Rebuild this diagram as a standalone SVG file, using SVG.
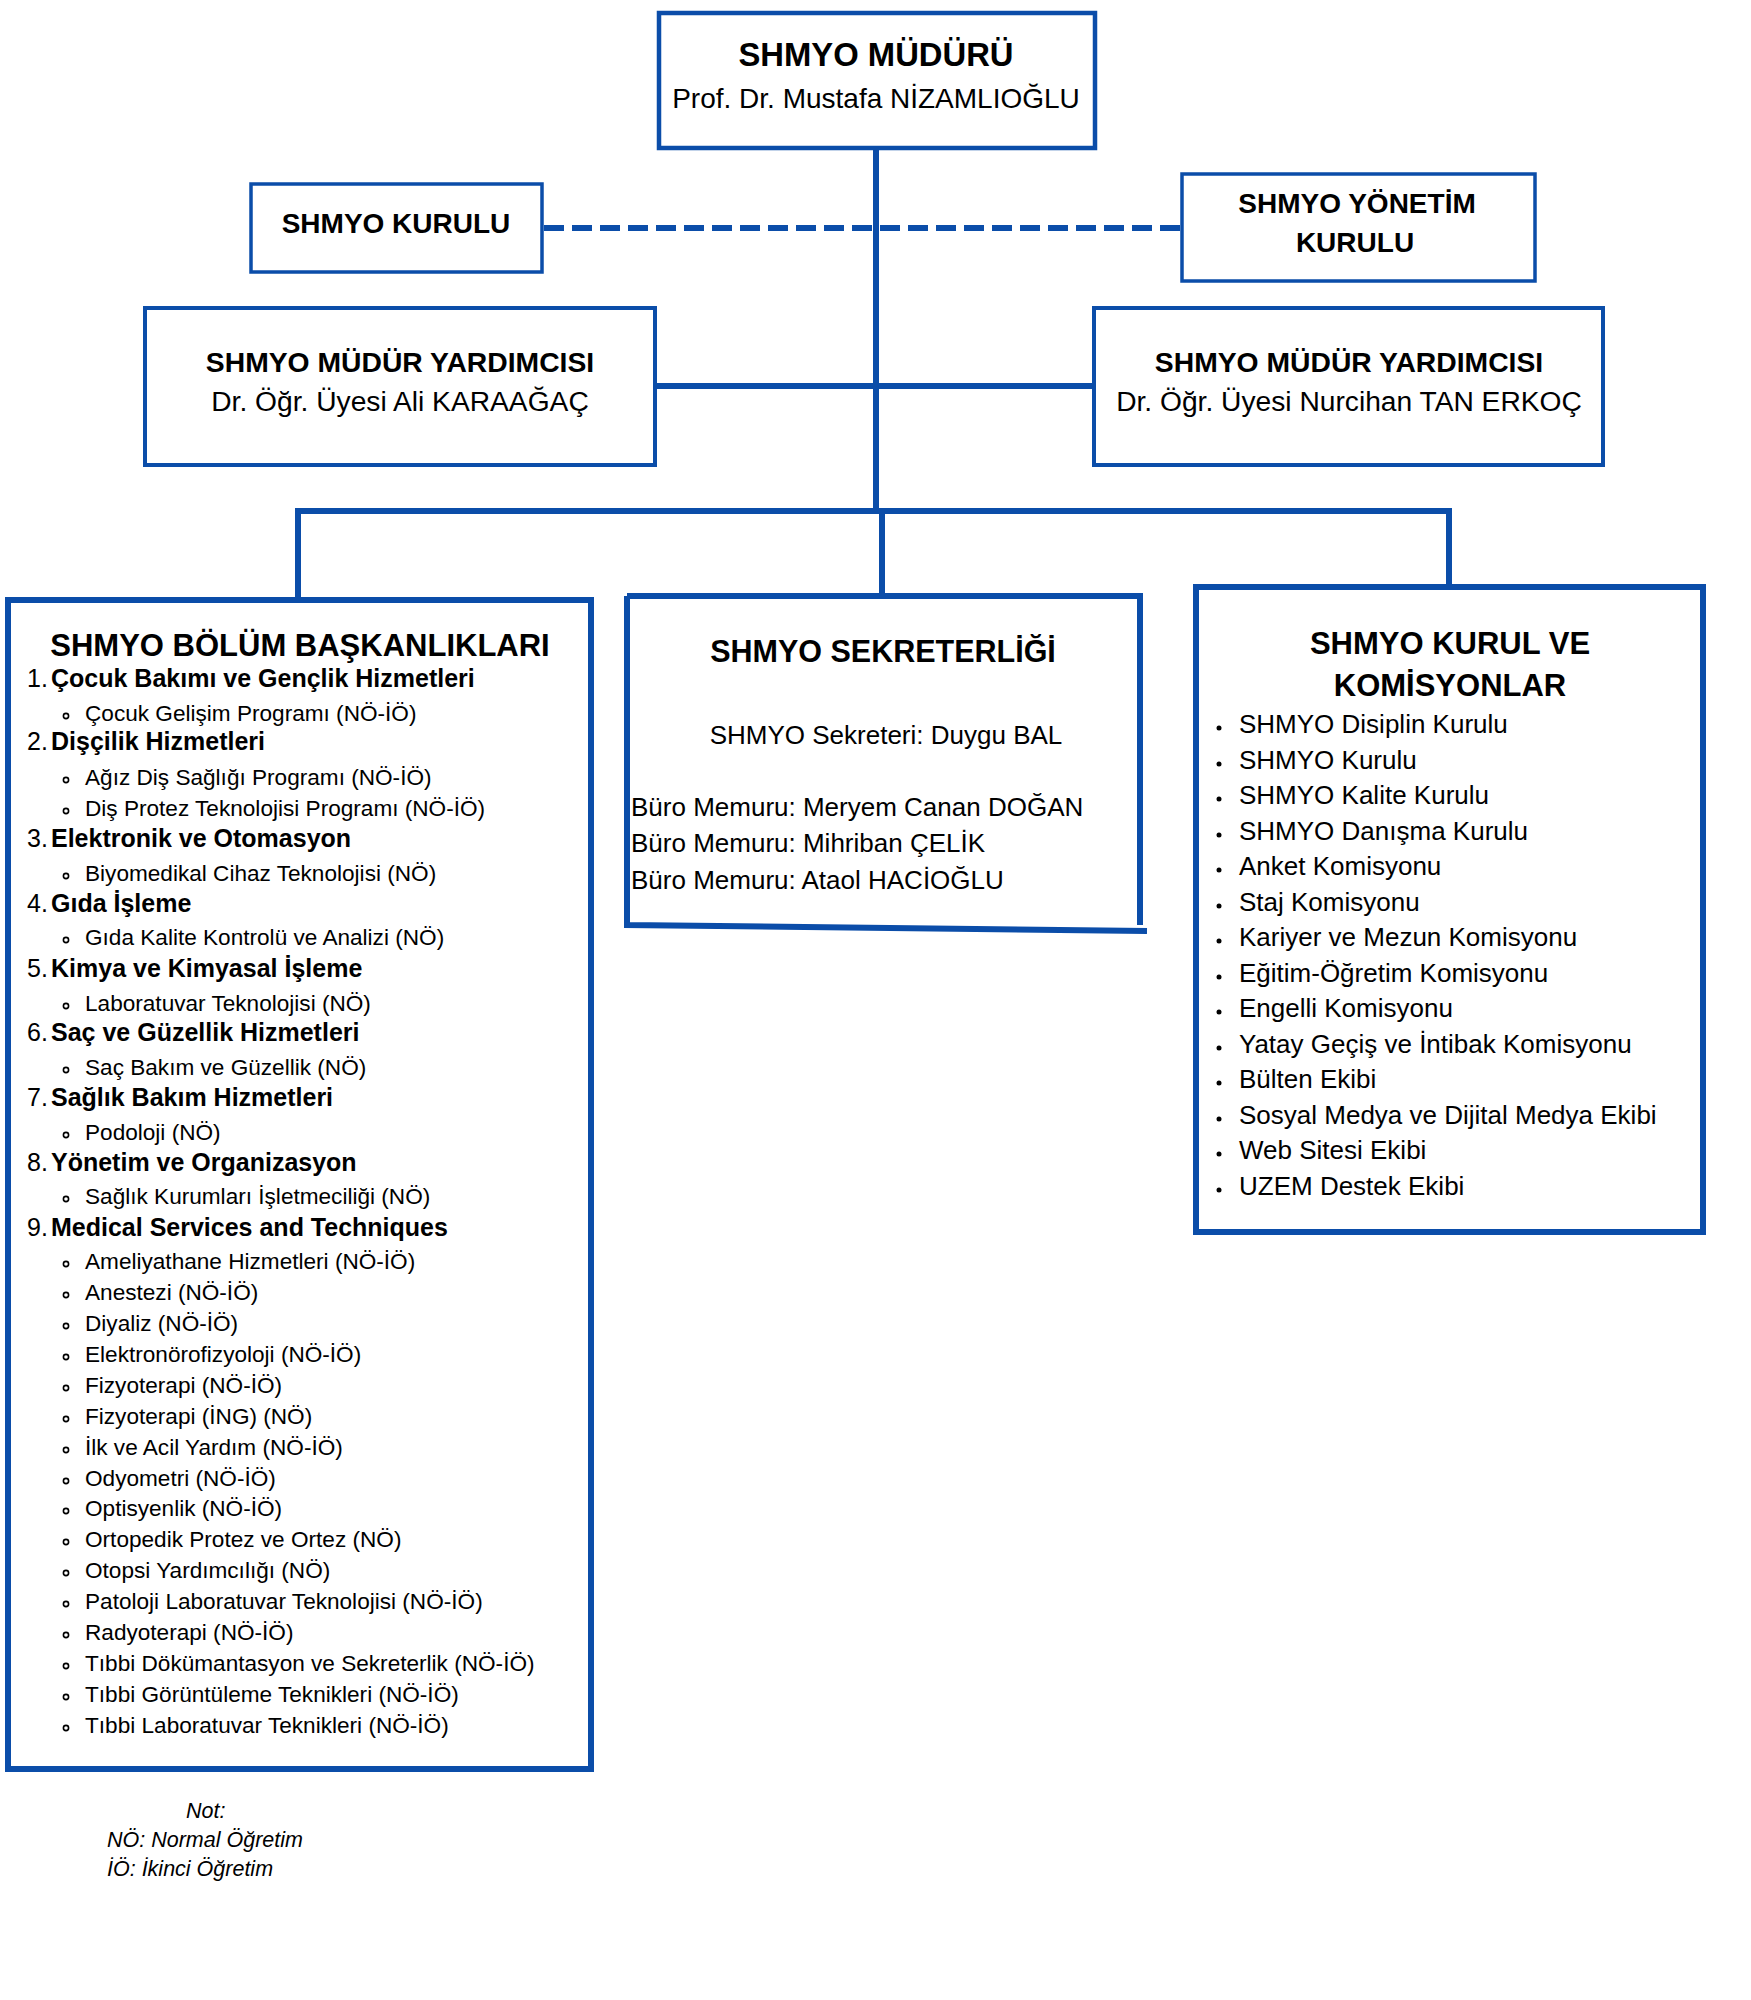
<svg xmlns="http://www.w3.org/2000/svg" width="1751" height="2000" viewBox="0 0 1751 2000">
<style>
text{font-family:"Liberation Sans",Arial,sans-serif;fill:#000}
.box{fill:#fff;stroke:#0b4da9}
.b{font-weight:bold}
.c{text-anchor:middle}
.con{fill:none;stroke:#0b4da9;stroke-width:6}
.sub{font-size:22.6px}
.num{font-size:25px}
.it{font-size:26px}
.ho{fill:none;stroke:#000;stroke-width:1.6}
.note{font-size:21.5px;font-style:italic}
</style>
<rect width="1751" height="2000" fill="#fff"/>
<g id="connectors">
<line class="con" x1="876" y1="150" x2="876" y2="514"/>
<line class="con" x1="657" y1="386" x2="1092" y2="386" stroke-width="7"/>
<line class="con" x1="544" y1="228" x2="1182" y2="228" stroke-dasharray="20 8"/>
<path class="con" d="M298 600 V511 H1449 V587"/>
<line class="con" x1="882" y1="511" x2="882" y2="596"/>
</g>
<g id="mudur">
<rect class="box" x="659" y="13" width="436" height="135" stroke-width="4.5"/>
<text class="b c" x="876" y="66" font-size="32.8">SHMYO MÜDÜRÜ</text>
<text class="c" x="876" y="108" font-size="28">Prof. Dr. Mustafa NİZAMLIOĞLU</text>
</g>
<g id="kurulu">
<rect class="box" x="251" y="184" width="291" height="88" stroke-width="3.5"/>
<text class="b c" x="396" y="233" font-size="28">SHMYO KURULU</text>
</g>
<g id="yonetim">
<rect class="box" x="1182" y="174" width="353" height="107" stroke-width="3.5"/>
<text class="b c" x="1357" y="213" font-size="28">SHMYO YÖNETİM</text>
<text class="b c" x="1355" y="252" font-size="28">KURULU</text>
</g>
<g id="yardimci1">
<rect class="box" x="145" y="308" width="510" height="157" stroke-width="4"/>
<text class="b c" x="400" y="372" font-size="28.3">SHMYO MÜDÜR YARDIMCISI</text>
<text class="c" x="400" y="411" font-size="28.2">Dr. Öğr. Üyesi Ali KARAAĞAÇ</text>
</g>
<g id="yardimci2">
<rect class="box" x="1094" y="308" width="509" height="157" stroke-width="4"/>
<text class="b c" x="1349" y="372" font-size="28.3">SHMYO MÜDÜR YARDIMCISI</text>
<text class="c" x="1349" y="411" font-size="28.2">Dr. Öğr. Üyesi Nurcihan TAN ERKOÇ</text>
</g>
<g id="bolumler">
<rect class="box" x="8" y="600" width="583" height="1169" stroke-width="6"/>
<text class="b c" x="300" y="656" font-size="31">SHMYO BÖLÜM BAŞKANLIKLARI</text>
<g class="num">
<text x="27" y="687">1.</text><text class="b" x="51" y="687">Çocuk Bakımı ve Gençlik Hizmetleri</text>
<text x="27" y="750">2.</text><text class="b" x="51" y="750">Dişçilik Hizmetleri</text>
<text x="27" y="847">3.</text><text class="b" x="51" y="847">Elektronik ve Otomasyon</text>
<text x="27" y="912">4.</text><text class="b" x="51" y="912">Gıda İşleme</text>
<text x="27" y="977">5.</text><text class="b" x="51" y="977">Kimya ve Kimyasal İşleme</text>
<text x="27" y="1041">6.</text><text class="b" x="51" y="1041">Saç ve Güzellik Hizmetleri</text>
<text x="27" y="1106">7.</text><text class="b" x="51" y="1106">Sağlık Bakım Hizmetleri</text>
<text x="27" y="1171">8.</text><text class="b" x="51" y="1171">Yönetim ve Organizasyon</text>
<text x="27" y="1236">9.</text><text class="b" x="51" y="1236">Medical Services and Techniques</text>
</g>
<g class="sub">
<text x="85" y="721">Çocuk Gelişim Programı (NÖ-İÖ)</text>
<text x="85" y="785">Ağız Diş Sağlığı Programı (NÖ-İÖ)</text>
<text x="85" y="816">Diş Protez Teknolojisi Programı (NÖ-İÖ)</text>
<text x="85" y="881">Biyomedikal Cihaz Teknolojisi (NÖ)</text>
<text x="85" y="945">Gıda Kalite Kontrolü ve Analizi (NÖ)</text>
<text x="85" y="1011">Laboratuvar Teknolojisi (NÖ)</text>
<text x="85" y="1075">Saç Bakım ve Güzellik (NÖ)</text>
<text x="85" y="1140">Podoloji (NÖ)</text>
<text x="85" y="1204">Sağlık Kurumları İşletmeciliği (NÖ)</text>
<text x="85" y="1269">Ameliyathane Hizmetleri (NÖ-İÖ)</text>
<text x="85" y="1300">Anestezi (NÖ-İÖ)</text>
<text x="85" y="1331">Diyaliz (NÖ-İÖ)</text>
<text x="85" y="1362">Elektronörofizyoloji (NÖ-İÖ)</text>
<text x="85" y="1393">Fizyoterapi (NÖ-İÖ)</text>
<text x="85" y="1424">Fizyoterapi (İNG) (NÖ)</text>
<text x="85" y="1455">İlk ve Acil Yardım (NÖ-İÖ)</text>
<text x="85" y="1486">Odyometri (NÖ-İÖ)</text>
<text x="85" y="1516">Optisyenlik (NÖ-İÖ)</text>
<text x="85" y="1547">Ortopedik Protez ve Ortez (NÖ)</text>
<text x="85" y="1578">Otopsi Yardımcılığı (NÖ)</text>
<text x="85" y="1609">Patoloji Laboratuvar Teknolojisi (NÖ-İÖ)</text>
<text x="85" y="1640">Radyoterapi (NÖ-İÖ)</text>
<text x="85" y="1671">Tıbbi Dökümantasyon ve Sekreterlik (NÖ-İÖ)</text>
<text x="85" y="1702">Tıbbi Görüntüleme Teknikleri (NÖ-İÖ)</text>
<text x="85" y="1733">Tıbbi Laboratuvar Teknikleri (NÖ-İÖ)</text>
</g>
<g class="ho">
<circle cx="66" cy="716" r="2.6"/><circle cx="66" cy="780" r="2.6"/><circle cx="66" cy="811" r="2.6"/>
<circle cx="66" cy="876" r="2.6"/><circle cx="66" cy="940" r="2.6"/><circle cx="66" cy="1006" r="2.6"/>
<circle cx="66" cy="1070" r="2.6"/><circle cx="66" cy="1135" r="2.6"/><circle cx="66" cy="1199" r="2.6"/>
<circle cx="66" cy="1264" r="2.6"/><circle cx="66" cy="1295" r="2.6"/><circle cx="66" cy="1326" r="2.6"/>
<circle cx="66" cy="1357" r="2.6"/><circle cx="66" cy="1388" r="2.6"/><circle cx="66" cy="1419" r="2.6"/>
<circle cx="66" cy="1450" r="2.6"/><circle cx="66" cy="1481" r="2.6"/><circle cx="66" cy="1511" r="2.6"/>
<circle cx="66" cy="1542" r="2.6"/><circle cx="66" cy="1573" r="2.6"/><circle cx="66" cy="1604" r="2.6"/>
<circle cx="66" cy="1635" r="2.6"/><circle cx="66" cy="1666" r="2.6"/><circle cx="66" cy="1697" r="2.6"/>
<circle cx="66" cy="1728" r="2.6"/>
</g>
</g>
<g id="sekreterlik">
<path d="M627 596 H1140 V925" fill="none" stroke="#0b4da9" stroke-width="6"/>
<path d="M627 596 V925 L1147 931" fill="none" stroke="#0b4da9" stroke-width="6"/>
<text class="b c" x="883" y="662" font-size="30.5">SHMYO SEKRETERLİĞİ</text>
<text class="c" x="886" y="744" font-size="26">SHMYO Sekreteri: Duygu BAL</text>
<text x="631" y="816" font-size="26">Büro Memuru: Meryem Canan DOĞAN</text>
<text x="631" y="852" font-size="26">Büro Memuru: Mihriban ÇELİK</text>
<text x="631" y="889" font-size="26">Büro Memuru: Ataol HACİOĞLU</text>
</g>
<g id="komisyonlar">
<rect class="box" x="1196" y="587" width="507" height="645" stroke-width="6"/>
<text class="b c" x="1450" y="654" font-size="31">SHMYO KURUL VE</text>
<text class="b c" x="1450" y="696" font-size="31">KOMİSYONLAR</text>
<g class="it">
<text x="1239" y="733">SHMYO Disiplin Kurulu</text>
<text x="1239" y="769">SHMYO Kurulu</text>
<text x="1239" y="804">SHMYO Kalite Kurulu</text>
<text x="1239" y="840">SHMYO Danışma Kurulu</text>
<text x="1239" y="875">Anket Komisyonu</text>
<text x="1239" y="911">Staj Komisyonu</text>
<text x="1239" y="946">Kariyer ve Mezun Komisyonu</text>
<text x="1239" y="982">Eğitim-Öğretim Komisyonu</text>
<text x="1239" y="1017">Engelli Komisyonu</text>
<text x="1239" y="1053">Yatay Geçiş ve İntibak Komisyonu</text>
<text x="1239" y="1088">Bülten Ekibi</text>
<text x="1239" y="1124">Sosyal Medya ve Dijital Medya Ekibi</text>
<text x="1239" y="1159">Web Sitesi Ekibi</text>
<text x="1239" y="1195">UZEM Destek Ekibi</text>
</g>
<g fill="#000">
<circle cx="1219" cy="728" r="2.5"/><circle cx="1219" cy="764" r="2.5"/><circle cx="1219" cy="799" r="2.5"/>
<circle cx="1219" cy="835" r="2.5"/><circle cx="1219" cy="870" r="2.5"/><circle cx="1219" cy="906" r="2.5"/>
<circle cx="1219" cy="941" r="2.5"/><circle cx="1219" cy="977" r="2.5"/><circle cx="1219" cy="1012" r="2.5"/>
<circle cx="1219" cy="1048" r="2.5"/><circle cx="1219" cy="1083" r="2.5"/><circle cx="1219" cy="1119" r="2.5"/>
<circle cx="1219" cy="1154" r="2.5"/><circle cx="1219" cy="1190" r="2.5"/>
</g>
</g>
<g id="not">
<text class="note" x="186" y="1818">Not:</text>
<text class="note" x="107" y="1847">NÖ: Normal Öğretim</text>
<text class="note" x="107" y="1876">İÖ: İkinci Öğretim</text>
</g>
</svg>
